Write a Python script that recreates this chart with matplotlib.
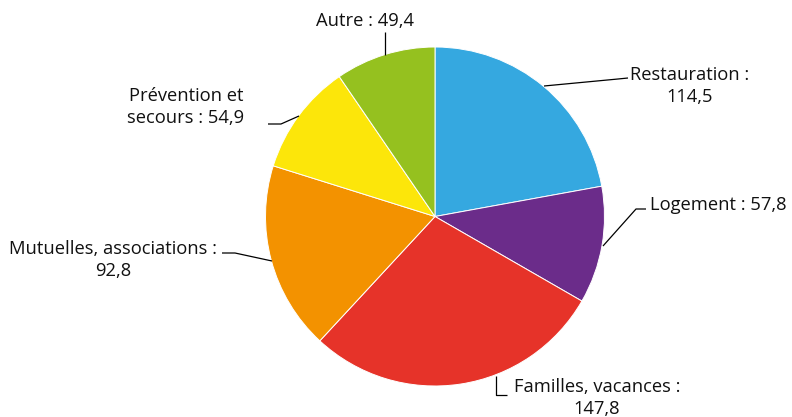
import matplotlib
matplotlib.use("Agg")
import matplotlib.pyplot as plt

categories = ["Restauration", "Logement", "Familles, vacances",
              "Mutuelles, associations", "Prévention et secours", "Autre"]
values = [114.5, 57.8, 147.8, 92.8, 54.9, 49.4]
labels = ["Restauration :\n114,5", "Logement : 57,8", "Familles, vacances :\n147,8",
          "Mutuelles, associations :\n92,8", "Prévention et\nsecours : 54,9", "Autre : 49,4"]
colors = ["#35A8E0", "#6B2C8A", "#E63329", "#F39200", "#FCE60A", "#95C11F"]

W, H = 792, 417
fig = plt.figure(figsize=(W / 100, H / 100), dpi=100)
ax = fig.add_axes([0, 0, 1, 1])

def Y(y):
    return H - y

cx, cy, r = 435, 216.5, 169.5
ax.pie(values, colors=colors, startangle=90, counterclock=False,
       center=(cx, Y(cy)), radius=r, frame=True,
       wedgeprops=dict(edgecolor="white", linewidth=0.7))
ax.set_xlim(0, W)
ax.set_ylim(0, H)
ax.set_aspect("equal")
ax.axis("off")

font = dict(family=["Open Sans", "DejaVu Sans"], fontsize=13.2, color="#111111")

# leader lines (pixel coords, y from top)
leaders = [
    [(544, 86), (618, 79), (628, 78)],
    [(603, 246), (636, 209), (646, 209)],
    [(496, 376), (496, 395), (507, 395)],
    [(272, 261), (235, 253), (222, 253)],
    [(299, 116), (281, 124), (268, 124)],
    [(385, 55), (385, 32)],
]
for pts in leaders:
    ax.plot([p[0] for p in pts], [Y(p[1]) for p in pts], color="black", lw=0.9,
            solid_capstyle="butt")

# label positions (x, center y of text block, alignment)
pos = [
    (690, 86, "center"),
    (650, 205, "left"),
    (597, 398, "center"),
    (113, 260, "center"),
    (186, 107, "center"),
    (365, 21, "center"),
]
for lab, (x, y, ha) in zip(labels, pos):
    ax.text(x, Y(y), lab, ha=ha, va="center", multialignment="center",
            linespacing=1.3, **font)

fig.savefig("out.png", dpi=100)
